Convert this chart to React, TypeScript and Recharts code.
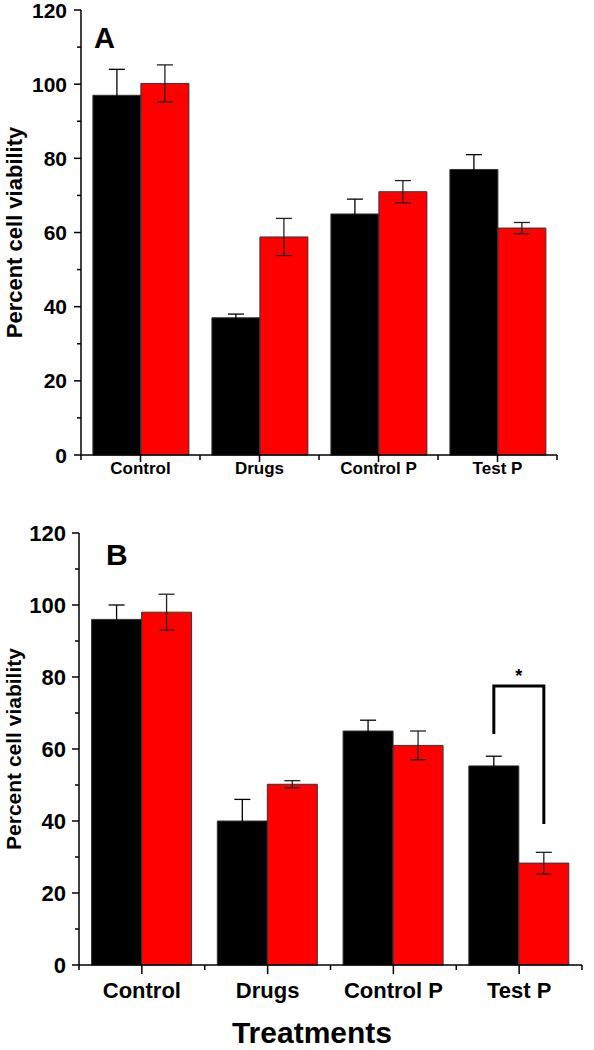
import React from 'react';
import { BarChart, Bar, XAxis, YAxis, ErrorBar, Label, LabelList } from 'recharts';

const categories = ['Control', 'Drugs', 'Control P', 'Test P'];

const blackA = [97, 37, 65, 77];
const blackAErr = [7, 1, 4, 4];
const redA = [100.2, 58.8, 71, 61.2];
const redAErr = [5, 5, 3, 1.5];

const blackB = [96, 40, 65, 55.3];
const blackBErr = [4, 6, 3, 2.7];
const redB = [98, 50.2, 61, 28.3];
const redBErr = [5, 1, 4, 3];

const yTicks = [0, 10, 20, 30, 40, 50, 60, 70, 80, 90, 100, 110, 120];

// significance bracket (Test P, panel B): top level, left leg end, right leg end
const bracketTop = 77.5;
const bracketLeftEnd = 64.2;
const bracketRightEnd = 39.2;
const bracketMark = '*';

const dataA = categories.map((name, i) => ({
  name,
  black: blackA[i],
  blackErr: blackAErr[i],
  red: redA[i],
  redErr: redAErr[i],
}));

const dataB = categories.map((name, i) => ({
  name,
  black: blackB[i],
  blackErr: blackBErr[i],
  red: redB[i],
  redErr: redBErr[i],
}));

const FONT = '"Liberation Sans", Arial, Helvetica, sans-serif';

const makeYTick = (fontSize: number, gap: number) => (props: any) => {
  const { x, y, payload } = props;
  const v = payload.value;
  const major = v % 20 === 0;
  return (
    <g>
      <line x1={x - (major ? 7 : 4)} x2={x} y1={y} y2={y} stroke="#000" strokeWidth={1.5} />
      {major && (
        <text
          x={x - gap}
          y={y}
          dy="0.36em"
          textAnchor="end"
          fontFamily={FONT}
          fontWeight="bold"
          fontSize={fontSize}
          fill="#000"
        >
          {v}
        </text>
      )}
    </g>
  );
};

const makeXTick = (band: number, major: number, minor: number, fontSize: number, labelDy: number) => (props: any) => {
  const { x, y, payload, index } = props;
  const last = index === categories.length - 1;
  return (
    <g>
      <line x1={x} x2={x} y1={y} y2={y + major} stroke="#000" strokeWidth={1.5} />
      <line x1={x - band / 2} x2={x - band / 2} y1={y} y2={y + minor} stroke="#000" strokeWidth={1.5} />
      {last && <line x1={x + band / 2} x2={x + band / 2} y1={y} y2={y + minor} stroke="#000" strokeWidth={1.5} />}
      <text
        x={x}
        y={y + labelDy}
        textAnchor="middle"
        fontFamily={FONT}
        fontWeight="bold"
        fontSize={fontSize}
        fill="#000"
      >
        {payload.value}
      </text>
    </g>
  );
};

const yTitle = (baselineX: number, size: number) => (props: any) => {
  const vb = props.viewBox || {};
  const cy = vb.y + vb.height / 2;
  return (
    <text
      x={baselineX}
      y={cy}
      transform={`rotate(-90, ${baselineX}, ${cy})`}
      textAnchor="middle"
      fontFamily={FONT}
      fontWeight="bold"
      fontSize={size}
      fill="#000"
    >
      Percent cell viability
    </text>
  );
};

const panelLetter = (letter: string, x: number, y: number, size: number) => (props: any) =>
  props.index === 0 ? (
    <text x={x} y={y} fontFamily={FONT} fontWeight="bold" fontSize={size} fill="#000">
      {letter}
    </text>
  ) : null;

const Bracket = (props: any) => {
  const { index, value } = props;
  if (index !== categories.length - 1) return null;
  const vb = props.viewBox && props.viewBox.width !== undefined ? props.viewBox : props;
  const x = Number(vb.x);
  const y = Number(vb.y);
  const w = Number(vb.width);
  const h = Number(vb.height);
  const v = Number(value);
  const base = y + h;
  const yFor = (val: number) => base - (val * h) / v;
  const leftX = x - w / 2;
  const rightX = x + w / 2;
  const topY = yFor(bracketTop);
  return (
    <g>
      <polyline
        points={`${leftX},${yFor(bracketLeftEnd)} ${leftX},${topY} ${rightX},${topY} ${rightX},${yFor(bracketRightEnd)}`}
        fill="none"
        stroke="#000"
        strokeWidth={3}
      />
      <text
        x={(leftX + rightX) / 2}
        y={topY - 4}
        textAnchor="middle"
        fontFamily={FONT}
        fontWeight="bold"
        fontSize={18}
        fill="#000"
      >
        {bracketMark}
      </text>
    </g>
  );
};

const ERR_BLACK = '#000';
const ERR_RED = '#222';

export default function App() {
  return (
    <div style={{ position: 'absolute', left: 0, top: 0, width: 594, height: 1050, background: '#fff' }}>
      <div style={{ position: 'absolute', left: 0, top: 0 }}>
        <BarChart
          width={594}
          height={500}
          data={dataA}
          margin={{ top: 10, right: 37, bottom: 0, left: 0 }}
          barCategoryGap="10%"
          barGap={0}
        >
          <XAxis
            dataKey="name"
            height={45}
            interval={0}
            tickSize={0}
            tickMargin={0}
            axisLine={{ stroke: '#000', strokeWidth: 1.5 }}
            tickLine={false}
            tick={makeXTick(119, 7, 5, 17, 19)}
          />
          <YAxis
            width={81}
            domain={[0, 120]}
            ticks={yTicks}
            interval={0}
            tickSize={0}
            tickMargin={0}
            axisLine={{ stroke: '#000', strokeWidth: 1.5 }}
            tickLine={false}
            tick={makeYTick(21, 14)}
          >
            <Label content={yTitle(22, 22)} />
          </YAxis>
          <Bar dataKey="black" fill="#000000" stroke="#333" strokeWidth={1} isAnimationActive={false}>
            <ErrorBar dataKey="blackErr" width={8} stroke={ERR_BLACK} strokeWidth={1.3} direction="y" />
            <LabelList dataKey="black" content={panelLetter('A', 94, 48, 29)} />
          </Bar>
          <Bar dataKey="red" fill="#ff0000" stroke="#333" strokeWidth={1} isAnimationActive={false}>
            <ErrorBar dataKey="redErr" width={8} stroke={ERR_RED} strokeWidth={1.3} direction="y" />
          </Bar>
        </BarChart>
      </div>
      <div style={{ position: 'absolute', left: 0, top: 500 }}>
        <BarChart
          width={594}
          height={550}
          data={dataB}
          margin={{ top: 33, right: 12, bottom: 0, left: 0 }}
          barCategoryGap="10%"
          barGap={0}
        >
          <XAxis
            dataKey="name"
            height={85}
            interval={0}
            tickSize={0}
            tickMargin={0}
            axisLine={{ stroke: '#000', strokeWidth: 1.5 }}
            tickLine={false}
            tick={makeXTick(125.75, 9, 5, 22, 33)}
          >
            <Label
              content={() => (
                <text x={312} y={543} textAnchor="middle" fontFamily={FONT} fontWeight="bold" fontSize={30} fill="#000">
                  Treatments
                </text>
              )}
            />
          </XAxis>
          <YAxis
            width={79}
            domain={[0, 120]}
            ticks={yTicks}
            interval={0}
            tickSize={0}
            tickMargin={0}
            axisLine={{ stroke: '#000', strokeWidth: 1.5 }}
            tickLine={false}
            tick={makeYTick(22, 13)}
          >
            <Label content={yTitle(21, 21)} />
          </YAxis>
          <Bar dataKey="black" fill="#000000" stroke="#333" strokeWidth={1} isAnimationActive={false}>
            <ErrorBar dataKey="blackErr" width={8} stroke={ERR_BLACK} strokeWidth={1.3} direction="y" />
            <LabelList dataKey="black" content={panelLetter('B', 106, 65, 30)} />
          </Bar>
          <Bar dataKey="red" fill="#ff0000" stroke="#333" strokeWidth={1} isAnimationActive={false}>
            <ErrorBar dataKey="redErr" width={8} stroke={ERR_RED} strokeWidth={1.3} direction="y" />
            <LabelList dataKey="red" content={Bracket} />
          </Bar>
        </BarChart>
      </div>
    </div>
  );
}
